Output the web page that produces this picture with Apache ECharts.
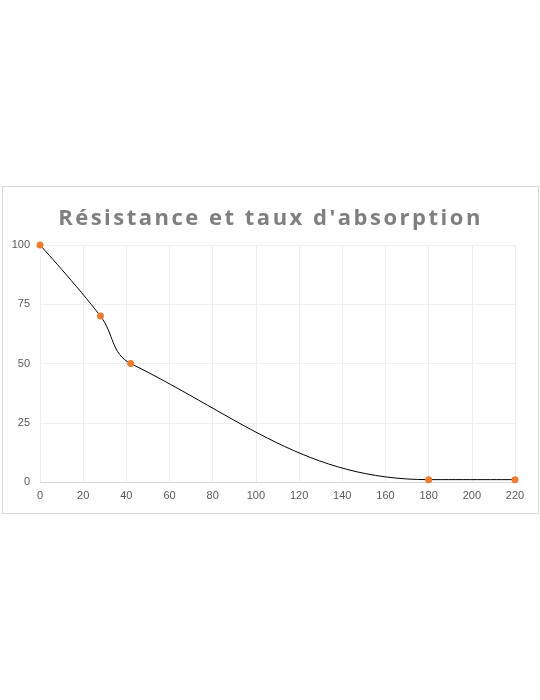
<!DOCTYPE html>
<html>
<head>
<meta charset="utf-8">
<script src="https://cdn.jsdelivr.net/npm/echarts@6/dist/echarts.min.js"></script>
<style>
body{margin:0;background:#fff;width:540px;height:700px;position:relative;font-family:"Open Sans",sans-serif;}
#box{position:absolute;left:2px;top:186px;width:535px;height:326px;border:1px solid #d9d9d9;}
#title{position:absolute;left:0;right:0;top:14px;text-align:center;font-size:22px;font-weight:bold;color:#7f7f7f;letter-spacing:2.5px;}
#chart{position:absolute;left:0;top:0;width:535px;height:326px;}
</style>
</head>
<body>
<div id="box">
  <div id="chart"></div>
  <div id="title">Résistance et taux d'absorption</div>
</div>
<script>
var xValues = [0, 28, 42, 180, 220];
var yValues = [100, 70, 50, 1, 1];

var myChart = echarts.init(document.getElementById('chart'));
var pts = [];
for (var i = 0; i < xValues.length; i++) pts.push([xValues[i], yValues[i]]);
var option = {
	animation: false,
	grid: {left: 37, right: 23, top: 58, bottom: 31},
	xAxis: {
		type: 'value', min: 0, max: 220, interval: 20,
		axisLine: {show: true, lineStyle: {color: '#d9d9d9'}},
		axisTick: {show: false},
		axisLabel: {color: '#595959', fontSize: 11, margin: 8},
		splitLine: {lineStyle: {color: '#efefef'}}
	},
	yAxis: {
		type: 'value', min: 0, max: 100, interval: 25,
		axisLine: {show: false},
		axisTick: {show: false},
		axisLabel: {color: '#595959', fontSize: 11, margin: 10},
		splitLine: {lineStyle: {color: '#efefef'}}
	},
	series: [{
		type: 'line',
		data: pts,
		smooth: 0.4,
		symbol: 'circle',
		symbolSize: 7,
		itemStyle: {color: '#ed7d31'},
		lineStyle: {color: '#000', width: 1}
	}]
};
myChart.setOption(option);
</script>
</body>
</html>
